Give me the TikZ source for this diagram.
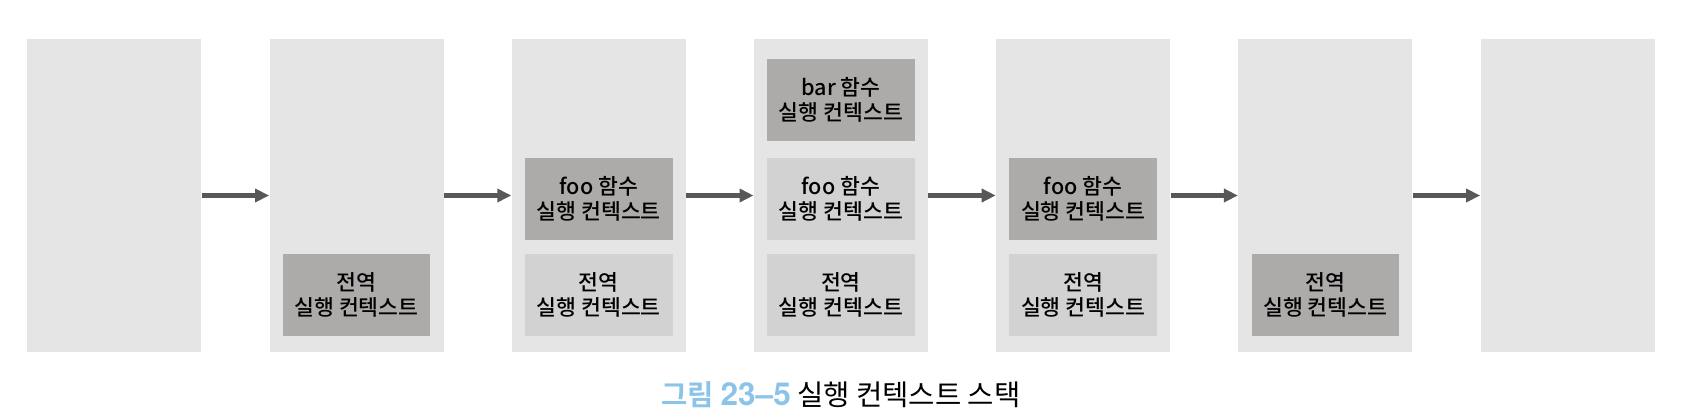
\documentclass[tikz,border=0pt]{standalone}
\usepackage{fontspec}
\setmainfont{Noto Sans CJK KR}[BoldFont={Noto Sans CJK KR Bold}]
\newfontfamily\ctxfont{Noto Sans CJK KR Medium}
\newfontfamily\capnum{TeX Gyre Heros}
\usepackage{xcolor}
\usepackage{tikz}
\usetikzlibrary{positioning}
\usetikzlibrary{arrows.meta}
\definecolor{panelgray}{HTML}{E6E5E5}
\definecolor{darkbox}{HTML}{ADABAA}
\definecolor{lightbox}{HTML}{D3D2D2}
\definecolor{arrowgray}{HTML}{58585A}
\definecolor{capblue}{HTML}{8CC3E8}
\tikzset{
	panel node/.style={rectangle,fill=panelgray,inner sep=0pt,
		minimum width=87pt,minimum height=156.5pt},
	ctx/.style={rectangle,align=center,inner sep=0pt,
		minimum width=73.8pt,minimum height=41pt,font=\ctxfont\fontsize{10.8}{12.4}\selectfont},
	top ctx/.style={ctx,fill=darkbox},
	low ctx/.style={ctx,fill=lightbox},
	flow/.style={draw=arrowgray,line width=2.35pt}
}

\begin{document}
\begin{tikzpicture}[x=0.5pt,y=0.5pt,->,>={Triangle[length=7pt,width=6.5pt]}]
	\useasboundingbox (0,0) rectangle (1704,418);
	% stack snapshots
	\foreach \i in {1,...,7}
		\node [panel node] (p\i) at ({114.3+242.2*(\i-1)},222.5) {};
	\foreach \i in {1,...,6}{
		\pgfmathtruncatemacro\j{\i+1}
		\draw [flow] (p\i) -- (p\j);
	}
	% global context
	\node [top ctx,above=8pt of p2.south] (g2) {전역\\실행 컨텍스트};
	\node [low ctx,above=8pt of p3.south] (g3) {전역\\실행 컨텍스트};
	\node [low ctx,above=8pt of p4.south] (g4) {전역\\실행 컨텍스트};
	\node [low ctx,above=8pt of p5.south] (g5) {전역\\실행 컨텍스트};
	\node [top ctx,above=8pt of p6.south] (g6) {전역\\실행 컨텍스트};
	% foo and bar
	\node [top ctx,above=6.8pt of g3] (f3) {foo 함수\\실행 컨텍스트};
	\node [low ctx,above=6.8pt of g4] (f4) {foo 함수\\실행 컨텍스트};
	\node [top ctx,above=6.8pt of g5] (f5) {foo 함수\\실행 컨텍스트};
	\node [top ctx,below=10pt of p4.north] (b4) {bar 함수\\실행 컨텍스트};
	\node [font=\fontsize{14.3}{16}\selectfont] (cap) at (841,23)
		{\textcolor{capblue}{\bfseries 그림 {\capnum\fontsize{15.8}{16}\selectfont 23–5}} 실행 컨텍스트 스택};
\end{tikzpicture}
\end{document}
